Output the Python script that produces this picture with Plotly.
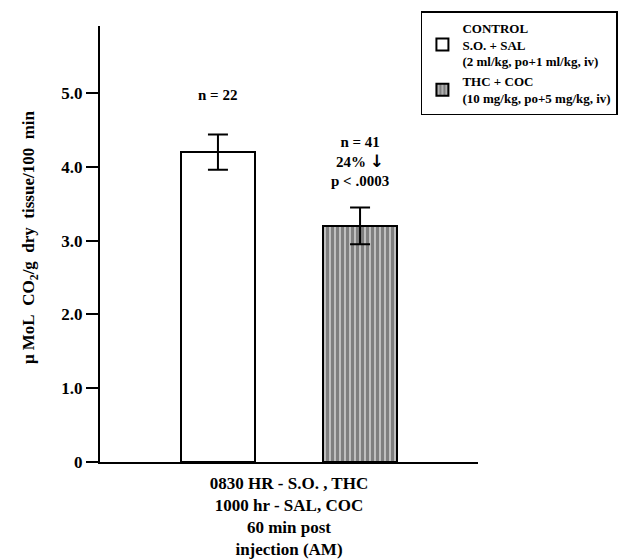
import plotly.graph_objects as go

categories = ["CONTROL", "THC + COC"]
legend_names = ["CONTROL<br>S.O. + SAL<br>(2 ml/kg, po+1 ml/kg, iv)",
                "THC + COC<br>(10 mg/kg, po+5 mg/kg, iv)"]
means = [4.2, 3.2]
sems = [0.24, 0.25]
tick_vals = [0, 1, 2, 3, 4, 5]
tick_text = ["0", "1.0", "2.0", "3.0", "4.0", "5.0"]
bar_notes = ["n = 22",
             "n = 41<br>24% <span style=\"font-family:DejaVu Sans;font-size:17px\">↓</span><br>p < .0003"]
note_y = [4.97, 4.08]

FONT = "Liberation Serif"
SP = "&nbsp;&nbsp;"

fig = go.Figure()
fig.add_trace(go.Bar(
    x=[categories[0]], y=[means[0]], name=legend_names[0], width=0.52,
    marker=dict(color="white", line=dict(color="black", width=2)),
    error_y=dict(type="data", array=[sems[0]], color="black", thickness=2, width=10),
))
fig.add_trace(go.Bar(
    x=[categories[1]], y=[means[1]], name=legend_names[1], width=0.52,
    marker=dict(color="black", line=dict(color="black", width=2),
                pattern=dict(shape="|", fgcolor="black", bgcolor="white", size=5, solidity=0.8)),
    error_y=dict(type="data", array=[sems[1]], color="black", thickness=2, width=10),
))

for c, t, yy in zip(categories, bar_notes, note_y):
    fig.add_annotation(x=c, y=yy, text=t, showarrow=False, yanchor="middle",
                       font=dict(family=FONT, size=15, color="black", weight="bold"))

ytitle = SP.join(["μ MoL", "CO<sub>2</sub>/g", "dry", "tissue/100", "min"])
fig.add_annotation(xref="paper", yref="paper", x=-0.185, y=0.516, text=ytitle,
                   textangle=-90, showarrow=False, xanchor="center", yanchor="middle",
                   font=dict(family=FONT, size=17, color="black", weight="bold"))

fig.update_layout(
    width=618, height=551,
    margin=dict(l=92, r=148, t=18, b=97, autoexpand=False),
    paper_bgcolor="white", plot_bgcolor="white",
    font=dict(family=FONT, color="black", weight="bold"),
    bargap=0,
    barmode="overlay",
    showlegend=True,
    legend=dict(x=0.849, y=1.034, xref="paper", yref="paper", xanchor="left", yanchor="top",
                bordercolor="black", borderwidth=1.5, bgcolor="white",
                font=dict(family=FONT, size=13, color="black", weight="bold"),
                tracegroupgap=12),
    xaxis=dict(type="category", range=[-0.83, 1.83], showline=True, linecolor="black", linewidth=2,
               showticklabels=False, ticks="", showgrid=False, zeroline=False, automargin=False,
               title=dict(text="0830 HR - S.O. , THC<br>1000 hr - SAL, COC<br>60 min post<br>injection (AM)",
                          font=dict(family=FONT, size=17, color="black", weight="bold"), standoff=16)),
    yaxis=dict(range=[0, 5.91], tickvals=tick_vals, ticktext=tick_text, showline=True,
               linecolor="black", linewidth=2, ticks="outside", ticklen=12, tickwidth=2,
               tickcolor="black", showgrid=False, zeroline=False, automargin=False,
               tickfont=dict(family=FONT, size=17, color="black", weight="bold")),
)

fig.write_html("out.html")
